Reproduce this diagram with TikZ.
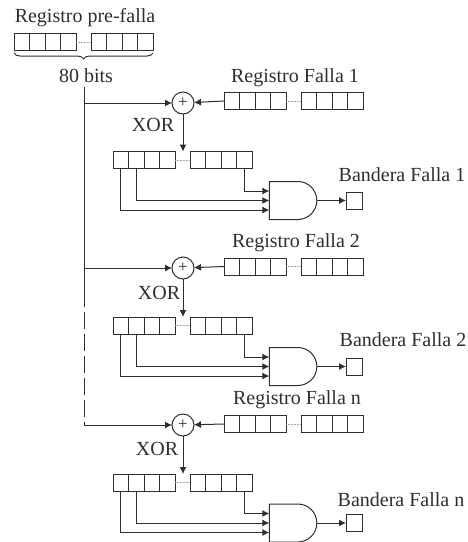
\documentclass[tikz,border=0pt]{standalone}
\usepackage{fontspec}
\setmainfont{Liberation Serif}
\usetikzlibrary{arrows.meta,decorations.pathreplacing,shapes.gates.logic.US}
\definecolor{ink}{HTML}{2E2E2E}
\tikzset{
  cell/.style={draw=ink,line width=1pt,minimum width=15.6pt,minimum height=17pt,inner sep=0pt,outer sep=0pt},
  flag/.style={draw=ink,line width=1pt,minimum width=16pt,minimum height=17pt,inner sep=0pt,outer sep=0pt},
  xorgate/.style={draw=ink,text=ink,line width=1pt,circle,minimum size=22pt,inner sep=0pt,outer sep=0pt,font=\fontsize{17}{17}\selectfont},
  andgate/.style={and gate US,draw=ink,line width=1pt,logic gate inputs=nnn,logic gate input sep=9.5pt,minimum width=38pt,minimum height=38pt,inner sep=0pt,outer sep=0pt},
  wire/.style={draw=ink,line width=1pt},
  arrowwire/.style={wire,-{Latex[length=7pt,width=7pt]}},
  gap/.style={draw=gray!70,line width=0.5pt,densely dotted},
  lbl/.style={text=ink,font=\fontsize{20}{22}\selectfont,inner sep=0pt}
}
% one register: eight cells with a dotted gap, names #1a..#1h
\newcommand{\regcells}[3]{%
  \node[cell] (#1a) at (#2+7.8,#3) {};
  \node[cell] (#1b) at (#2+23.4,#3) {};
  \node[cell] (#1c) at (#2+39,#3) {};
  \node[cell] (#1d) at (#2+54.6,#3) {};
  \node[cell] (#1e) at (#2+84.8,#3) {};
  \node[cell] (#1f) at (#2+100.4,#3) {};
  \node[cell] (#1g) at (#2+116,#3) {};
  \node[cell] (#1h) at (#2+131.6,#3) {};
  \draw[gap] (#1d.east) -- (#1e.west);
}
\begin{document}
\begin{tikzpicture}[x=1pt,y=1pt,yscale=-1]
\useasboundingbox (0,0) rectangle (467,542);

% Registro pre-falla
\node[lbl] (pretxt) at (85,18) {Registro pre-falla};
\regcells{pre}{14}{42}
\draw[wire,decorate,decoration={brace,mirror,amplitude=6pt}] (14,53) -- (153,53);
\node[lbl] (bits) at (86,76) {80 bits};

% Falla 1
\node[lbl] (txta) at (295,78) {Registro Falla 1};
\regcells{ra}{224}{101}
\node[xorgate] (xa) at (183,103) {+};
\node[lbl] (xora) at (153,125) {XOR};
\regcells{sa}{113}{160}
\node[andgate] (anda) at (291.5,200.5) {};
\node[lbl] (flagtxta) at (402,175) {Bandera Falla 1};
\node[flag] (fa) at (354,200.5) {};

% Falla 2
\node[lbl] (txtb) at (296,243) {Registro Falla 2};
\regcells{rb}{224}{266.5}
\node[xorgate] (xb) at (183,268) {+};
\node[lbl] (xorb) at (159,293) {XOR};
\regcells{sb}{113}{325.5}
\node[andgate] (andb) at (291.5,366.5) {};
\node[lbl] (flagtxtb) at (403,340) {Bandera Falla 2};
\node[flag] (fb) at (354,366.5) {};

% Falla n
\node[lbl] (txtc) at (297,400) {Registro Falla n};
\regcells{rc}{224}{424}
\node[xorgate] (xc) at (183,425) {+};
\node[lbl] (xorc) at (157,449) {XOR};
\regcells{sc}{113}{482.5}
\node[andgate] (andc) at (291.5,523) {};
\node[lbl] (flagtxtc) at (401,500) {Bandera Falla n};
\node[flag] (fc) at (354,523) {};

% bus
\coordinate (bustop) at (84,87);
\coordinate (busa) at (84,103);
\coordinate (busb) at (84,268);
\coordinate (busc) at (84,425);
\draw[wire] (bustop) -- (84,290);
\draw[wire,dash pattern=on 17pt off 5pt] (84,290) -- (busc);
\draw[arrowwire] (busa) -- (xa);
\draw[arrowwire] (busb) -- (xb);
\draw[arrowwire] (busc) -- (xc);

% Connections
\foreach \r/\s/\a/\f/\o in {ra/sa/anda/fa/xa,rb/sb/andb/fb/xb,rc/sc/andc/fc/xc}{
  \draw[arrowwire] (\r a.west) -- (\o);
  \draw[arrowwire] (\o.south) -- (\o.south |- \s a.north);
  \draw[arrowwire] (\s h.south) |- (\a.input 1);
  \draw[arrowwire] (\s b.south) |- (\a.input 2);
  \draw[arrowwire] (\s a.south) |- (\a.input 3);
  \draw[arrowwire] (\a.output) -- (\f.west);
}
\end{tikzpicture}
\end{document}
